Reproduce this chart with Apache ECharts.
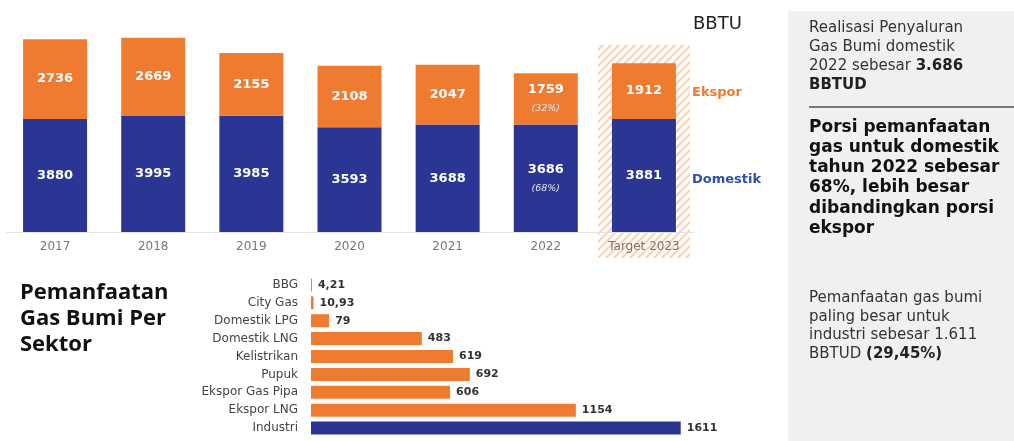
<!DOCTYPE html>
<html lang="id">
<head>
    <meta charset="UTF-8">
    <title>Pemanfaatan Gas Bumi</title>
    <script src="https://cdn.jsdelivr.net/npm/echarts@6/dist/echarts.min.js"></script>
    <style>
        html, body { margin: 0; padding: 0; background: #fff; }
        #chart { width: 1014px; height: 441px; }
    </style>
</head>
<body>
    <div id="chart"></div>
    <script>
        // data tahunan (BBTU)
        const years = ['2017', '2018', '2019', '2020', '2021', '2022', 'Target 2023'];
        const domestik = [3880, 3995, 3985, 3593, 3688, 3686, 3881];
        const ekspor = [2736, 2669, 2155, 2108, 2047, 1759, 1912];
        const domestikPct = ['', '', '', '', '', '68%', ''];
        const eksporPct = ['', '', '', '', '', '32%', ''];

        // per sektor
        const sektor = ['BBG', 'City Gas', 'Domestik LPG', 'Domestik LNG', 'Kelistrikan',
            'Pupuk', 'Ekspor Gas Pipa', 'Ekspor LNG', 'Industri'];
        const sektorVal = [4.21, 10.93, 79, 483, 619, 692, 606, 1154, 1611];

        const ORANGE = '#EF7B30';
        const BLUE = '#2A3594';
        const FONT = '"DejaVu Sans"';
        const TITLE_FONT = '"Open Sans"';

        const chart = echarts.init(document.getElementById('chart'));

        function stackLabel(pcts) {
            return function (p) {
                const pct = pcts[p.dataIndex];
                return pct ? `{v|${p.value}}\n{p|(${pct})}` : `{v|${p.value}}`;
            };
        }
        const labelRich = {
            v: { color: '#fff', fontSize: 13, fontWeight: 'bold', fontFamily: 'DejaVu Sans', lineHeight: 20 },
            p: { color: '#e8e8f4', fontSize: 9.5, fontStyle: 'italic', fontFamily: 'DejaVu Sans', lineHeight: 18 }
        };

        // pola garis miring untuk kotak target
        function hatch() {
            const c = document.createElement('canvas');
            c.width = 8; c.height = 8;
            const ctx = c.getContext('2d');
            ctx.strokeStyle = '#F9D2B6';
            ctx.lineWidth = 2;
            ctx.beginPath();
            ctx.moveTo(0, 8); ctx.lineTo(8, 0);
            ctx.moveTo(-2, 2); ctx.lineTo(2, -2);
            ctx.moveTo(6, 10); ctx.lineTo(10, 6);
            ctx.stroke();
            return c;
        }

        const option = {
            animation: false,
            backgroundColor: '#fff',
            textStyle: { fontFamily: 'DejaVu Sans' },
            grid: [
                { left: 6, right: 321, top: 28, bottom: 209 },
                { left: 311, right: 244, top: 276, bottom: 4 }
            ],
            xAxis: [
                {
                    type: 'category', gridIndex: 0, data: years,
                    axisTick: { show: false },
                    axisLine: { lineStyle: { color: '#e2e2e2' } },
                    axisLabel: { color: '#777', fontSize: 12, margin: 9 }
                },
                {
                    type: 'value', gridIndex: 1, min: 0, max: 2000, show: false
                }
            ],
            yAxis: [
                { type: 'value', gridIndex: 0, min: 0, max: 7000, show: false },
                {
                    type: 'category', gridIndex: 1, data: sektor, inverse: true,
                    axisLine: { show: false }, axisTick: { show: false },
                    axisLabel: { color: '#444', fontSize: 12, margin: 13 }
                }
            ],
            series: [
                {
                    name: 'Domestik', type: 'bar', stack: 'total', xAxisIndex: 0, yAxisIndex: 0,
                    data: domestik, barWidth: 64, itemStyle: { color: BLUE },
                    label: { show: true, position: 'inside', formatter: stackLabel(domestikPct), rich: labelRich }
                },
                {
                    name: 'Ekspor', type: 'bar', stack: 'total', xAxisIndex: 0, yAxisIndex: 0,
                    data: ekspor, barWidth: 64, itemStyle: { color: ORANGE },
                    label: { show: true, position: 'inside', formatter: stackLabel(eksporPct), rich: labelRich }
                },
                {
                    name: 'Sektor', type: 'bar', xAxisIndex: 1, yAxisIndex: 1, barWidth: 13,
                    data: sektorVal.map((v, i) => ({
                        value: v,
                        itemStyle: { color: sektor[i] === 'Industri' ? BLUE : ORANGE }
                    })),
                    label: {
                        show: true, position: 'right', distance: 6,
                        color: '#333', fontSize: 11, fontWeight: 'bold',
                        formatter: p => String(p.value).replace('.', ',')
                    }
                }
            ]
        };
        chart.setOption(option);

        // posisi kotak target dari sumbu
        const tx = chart.convertToPixel({ xAxisIndex: 0 }, 'Target 2023');

        chart.setOption({
            graphic: [
                {
                    type: 'rect', z: 0, shape: { x: tx - 46, y: 45, width: 92, height: 213 },
                    style: { fill: { image: hatch(), repeat: 'repeat' } }
                },
                {
                    type: 'text', x: 693, y: 15,
                    style: { text: 'BBTU', fill: '#222', font: '18px ' + FONT }
                },
                {
                    type: 'text', x: 692, y: 86,
                    style: { text: 'Ekspor', fill: ORANGE, font: 'bold 13px ' + FONT }
                },
                {
                    type: 'text', x: 692, y: 173,
                    style: { text: 'Domestik', fill: '#2F4FB0', font: 'bold 13px ' + FONT }
                },
                {
                    type: 'text', x: 20, y: 280,
                    style: {
                        text: 'Pemanfaatan\nGas Bumi Per\nSektor', fill: '#111',
                        font: 'bold 22px ' + TITLE_FONT, lineHeight: 26
                    }
                },
                // panel kanan
                {
                    type: 'rect', z: 0, shape: { x: 788, y: 11, width: 226, height: 430 },
                    style: { fill: '#F0F0F0' }
                },
                {
                    type: 'text', x: 809, y: 19,
                    style: {
                        text: 'Realisasi Penyaluran\nGas Bumi domestik\n2022 sebesar {b|3.686}\n{b|BBTUD}',
                        fill: '#333', font: '15px ' + FONT, lineHeight: 19,
                        rich: { b: { fontWeight: 'bold', fill: '#222', fontSize: 15, fontFamily: 'DejaVu Sans', lineHeight: 19 } }
                    }
                },
                {
                    type: 'line', shape: { x1: 809, y1: 107, x2: 1014, y2: 107 },
                    style: { stroke: '#777', lineWidth: 2 }
                },
                {
                    type: 'text', x: 809, y: 117,
                    style: {
                        text: 'Porsi pemanfaatan\ngas untuk domestik\ntahun 2022 sebesar\n68%, lebih besar\ndibandingkan porsi\nekspor',
                        fill: '#111', font: 'bold 17px ' + FONT, lineHeight: 20.3
                    }
                },
                {
                    type: 'text', x: 809, y: 289,
                    style: {
                        text: 'Pemanfaatan gas bumi\npaling besar untuk\nindustri sebesar 1.611\nBBTUD {b|(29,45%)}',
                        fill: '#333', font: '15px ' + FONT, lineHeight: 18.5,
                        rich: { b: { fontWeight: 'bold', fill: '#222', fontSize: 15, fontFamily: 'DejaVu Sans', lineHeight: 18.5 } }
                    }
                }
            ]
        });
    </script>
</body>
</html>
